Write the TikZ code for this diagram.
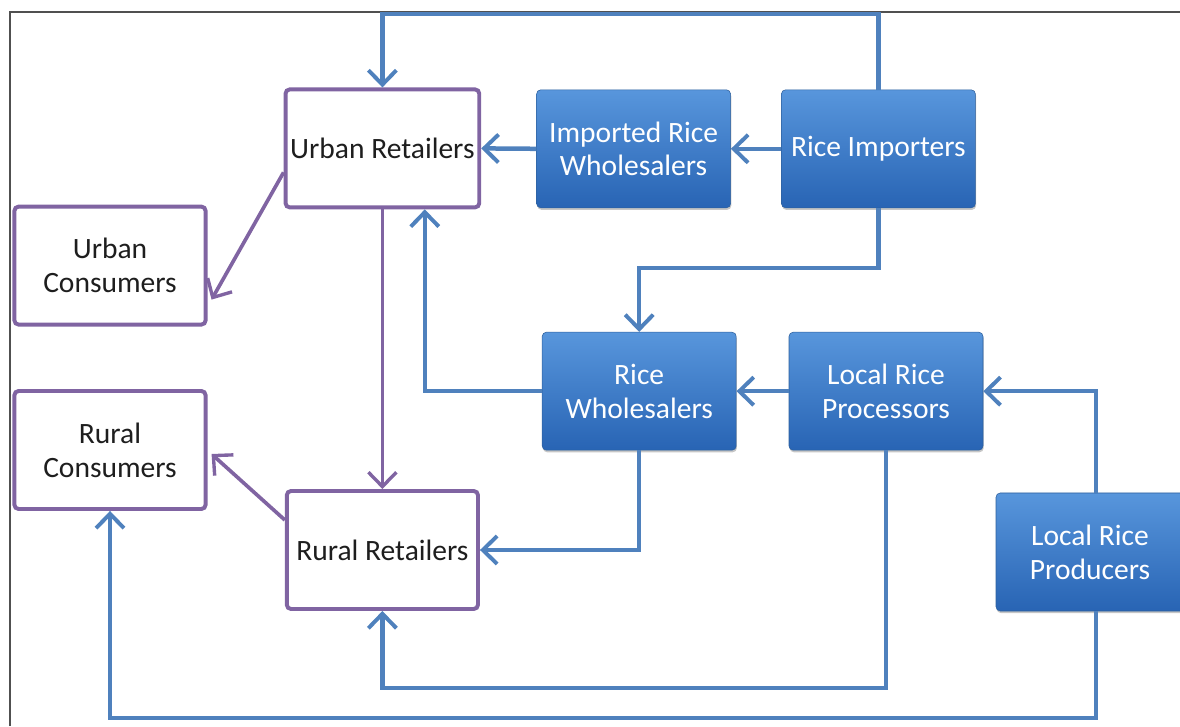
\documentclass[tikz,border=0pt]{standalone}
\usepackage{fontspec}
\setmainfont{Carlito}
\usepackage{tikz}
\usetikzlibrary{arrows.meta, calc, shadows, positioning}
\definecolor{boxblue}{RGB}{58,120,196}
\definecolor{boxtop}{RGB}{88,150,220}
\definecolor{boxbot}{RGB}{40,100,180}
\definecolor{linkblue}{RGB}{79,129,189}
\definecolor{linkpurple}{RGB}{128,100,162}
\definecolor{inktext}{RGB}{30,30,30}
\definecolor{framegray}{RGB}{80,80,80}

\begin{document}
\begin{tikzpicture}
\tikzset{every node/.style={font=\fontsize{21}{24}\selectfont, align=center}}
	\tikzset{retail/.style={rectangle, draw=linkpurple, line width=2.8pt, fill=white, rounded corners=3pt, text=inktext, minimum width=4.78cm, minimum height=2.95cm}}
	\tikzset{trader/.style={rectangle, rounded corners=3pt, top color=boxtop, bottom color=boxbot, draw=boxblue!80!black, line width=0.4pt, text=white, drop shadow={shadow xshift=0.5pt, shadow yshift=-1.5pt, opacity=0.45}, minimum width=4.85cm, minimum height=2.95cm}}
	\tikzset{bflow/.style={draw=linkblue, line width=3.2pt, -{Straight Barb[length=3.6mm, width=7mm, line width=2.8pt]}}}
	\tikzset{pflow/.style={draw=linkpurple, line width=2.6pt, -{Straight Barb[length=3.6mm, width=7mm, line width=2.4pt]}}}

\useasboundingbox (0,0) rectangle (29.5,18.15);
\draw[framegray, line width=1.6pt] (0.25,0) -- (0.25,17.85) -- (29.5,17.85);

\node[retail] (urbRet) at (9.56,14.44) {Urban Retailers};
\node[trader] (impWhole) at (15.84,14.43) {Imported Rice\\Wholesalers};
\node[trader] (riceImp) at (21.96,14.43) {Rice Importers};
\node[retail] (urbCons) at (2.75,11.51) {Urban\\Consumers};
\node[trader] (riceWhole) at (15.98,8.37) {Rice\\Wholesalers};
\node[trader] (locProc) at (22.15,8.37) {Local Rice\\Processors};
\node[retail] (rurCons) at (2.75,6.90) {Rural\\Consumers};
\node[retail] (rurRet) at (9.56,4.40) {Rural Retailers};
\node[trader, minimum width=4.7cm] (locProd) at (27.25,4.35) {Local Rice\\Producers};

\coordinate (topRun) at (0,17.8);
\coordinate (midRun) at (0,11.45);
\coordinate (lowRun) at (0,0.95);
\coordinate (baseRun) at (0,0.2);

% importers
\draw[bflow] (riceImp.north) -- (riceImp.north |- topRun) -| (urbRet.north);
\draw[bflow] (riceImp.west) -- (impWhole.east);
\draw[bflow] (impWhole.west) -- (urbRet.east);
\draw[bflow] (riceImp.south) -- (riceImp.south |- midRun) -| (riceWhole.north);

% wholesalers and processors
\draw[bflow] (locProc.west) -- (riceWhole.east);
\draw[bflow] ([xshift=0.15cm]locProd.north) |- (locProc.east);
\draw[bflow] (riceWhole.west) -| ([xshift=1.06cm]urbRet.south);
\draw[bflow] (riceWhole.south) |- (rurRet.east);
\draw[bflow] (locProc.south) -- (locProc.south |- lowRun) -| (rurRet.south);
\draw[bflow] ([xshift=0.15cm]locProd.south) -- ([xshift=0.15cm]locProd.south |- baseRun) -| (rurCons.south);

% retailers
\draw[pflow] ([yshift=-0.6cm]urbRet.west) -- ([xshift=0.1cm, yshift=-0.85cm]urbCons.east);
\draw[pflow] (urbRet.south) -- (rurRet.north);
\draw[pflow] ([yshift=0.75cm]rurRet.west) -- ([xshift=0.1cm, yshift=-0.1cm]rurCons.east);
\end{tikzpicture}
\end{document}
